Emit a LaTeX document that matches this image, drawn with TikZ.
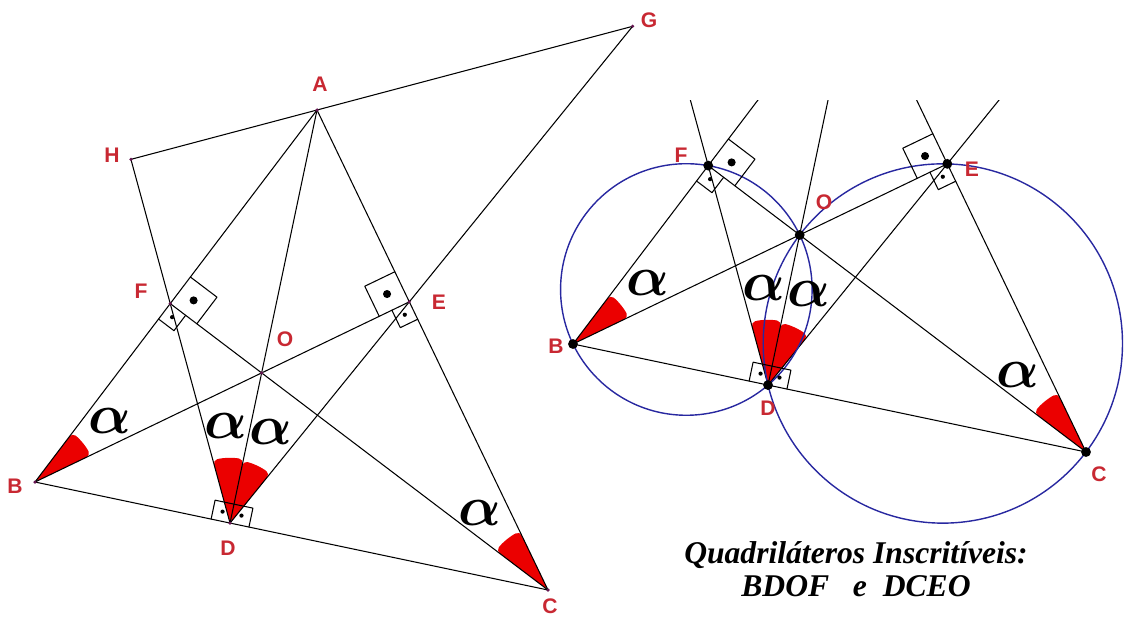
\RequirePackage{fix-cm}
\documentclass[tikz,border=0pt]{standalone}
\usepackage{bm}
\usepackage{fontspec}
\usepackage{tikz}
\usetikzlibrary{calc,angles}
\newfontfamily\labelfont{Liberation Sans}
\newfontfamily\notefont{Liberation Serif}

% right-angle mark: vertex, first ray, second ray, side, dot radius
\newcommand{\perpmark}[5]{%
  \draw[markline] ($(#1)!#4!(#2)$) -- ($(#1)!#4!(#2)+(#1)!#4!(#3)-(#1)$) -- ($(#1)!#4!(#3)$);
  \fill ($(#1)!#4/2!(#2)+(#1)!#4/2!(#3)-(#1)$) circle (#5);
}

\begin{document}
\begin{tikzpicture}[x=0.02cm, y=-0.02cm, line join=round, line cap=round,
    seg/.style={black, line width=0.6pt},
    markline/.style={black, line width=0.6pt},
    circ/.style={circleblue, line width=0.8pt},
    sector/.style={fill=anglered, angle radius=35pt, rounded corners=2.5pt},
    lbl/.style={text=labelred, font=\labelfont\bfseries\fontsize{12}{12}\selectfont, inner sep=0pt},
    alfa/.style={font=\fontsize{32}{32}\selectfont, inner sep=0pt}]

    % Colours of the figure
    \definecolor{labelred}{RGB}{200, 40, 50}
    \definecolor{anglered}{RGB}{235, 0, 0}
    \definecolor{circleblue}{RGB}{40, 40, 160}
    \definecolor{pointpurple}{RGB}{100, 20, 80}

    \useasboundingbox (0,0) rectangle (1126,623);

    % =======================================================
    % POINTS
    % =======================================================
    \coordinate (A) at (317,110);
    \coordinate (B) at (35,482);
    \coordinate (C) at (548,590);
    \coordinate (D) at ($(B)!(A)!(C)$);
    \coordinate (E) at ($(A)!(B)!(C)$);
    \coordinate (F) at ($(A)!(C)!(B)$);
    \coordinate (O) at (intersection of A--D and B--E);
    \coordinate (Adir) at ($(A)+(313,-83)$);
    \coordinate (H) at (intersection of A--Adir and D--F);
    \coordinate (G) at (intersection of A--Adir and D--E);

    % the same triangle again, on the right
    \foreach \p in {A,B,C,D,E,F,O} {
        \coordinate (r\p) at ($(\p)+(538,-138)$);
    }

    % =======================================================
    % LEFT FIGURE
    % =======================================================
    % 1. Red angles
    \pic[sector] {angle = E--B--A};
    \pic[sector, angle radius=37pt] {angle = A--C--F};
    \pic[sector, angle radius=37pt] {angle = A--D--F};
    \pic[sector, angle radius=36pt] {angle = E--D--A};

    % 2. Lines
    \draw[seg] (H) -- (G);
    \draw[seg] (H) -- (D) -- (G);
    \draw[seg] (A) -- (B) -- (C) -- cycle;
    \draw[seg] (A) -- (D);
    \draw[seg] (B) -- (E);
    \draw[seg] (C) -- (F);

    % 3. Right angles
    \perpmark{F}{A}{C}{19pt}{2.3pt}
    \perpmark{F}{B}{C}{11pt}{1.2pt}
    \perpmark{E}{A}{B}{19pt}{2.3pt}
    \perpmark{E}{C}{B}{11pt}{1.2pt}
    \perpmark{D}{B}{A}{11pt}{1.2pt}
    \perpmark{D}{C}{A}{11pt}{1.2pt}

    % 4. Points
    \foreach \p in {A,B,C,D,E,F,O,H,G} {
        \fill[pointpurple] (\p) circle (1pt);
    }

    % =======================================================
    % RIGHT FIGURE
    % =======================================================
    % 1. Red angles
    \pic[sector] {angle = rE--rB--rA};
    \pic[sector, angle radius=37pt] {angle = rA--rC--rF};
    \pic[sector, angle radius=37pt] {angle = rA--rD--rF};
    \pic[sector, angle radius=36pt] {angle = rE--rD--rA};

    % 2. Lines
    \draw[seg] (rB) -- (rC);
    \draw[seg] (rB) -- (rE);
    \draw[seg] (rC) -- (rF);
    \begin{scope}
        \clip (0,100) rectangle (1126,623);
        \draw[seg] (rB) -- (rA);
        \draw[seg] (rC) -- (rA);
        \draw[seg] (rD) -- (rA);
        \draw[seg] (rD) -- ($(rD)!2!(rF)$);
        \draw[seg] (rD) -- ($(rD)!2!(rE)$);
    \end{scope}

    % 3. Circles BDOF and DCEO
    \draw[circ] let \p1 = ($(rO)-(rB)$) in
        ($(rB)!0.5!(rO)$) circle [radius={veclen(\x1,\y1)/2}];
    \draw[circ] let \p1 = ($(rO)-(rC)$) in
        ($(rC)!0.5!(rO)$) circle [radius={veclen(\x1,\y1)/2}];

    % 4. Right angles
    \perpmark{rF}{rA}{rC}{19pt}{2.3pt}
    \perpmark{rF}{rB}{rC}{11pt}{1.2pt}
    \perpmark{rE}{rA}{rB}{19pt}{2.3pt}
    \perpmark{rE}{rC}{rB}{11pt}{1.2pt}
    \perpmark{rD}{rB}{rA}{11pt}{1.2pt}
    \perpmark{rD}{rC}{rA}{11pt}{1.2pt}

    % 5. Points
    \foreach \p in {rB,rC,rD,rE,rF,rO} {
        \fill (\p) circle (2.8pt);
    }

    % =======================================================
    % LABELS
    % =======================================================
    \node[lbl] (lA) at (320,84) {A};
    \node[lbl] (lG) at (649,20) {G};
    \node[lbl] (lH) at (112,155) {H};
    \node[lbl] (lF) at (141,291) {F};
    \node[lbl] (lE) at (439,302) {E};
    \node[lbl] (lO) at (285,339) {O};
    \node[lbl] (lB) at (15,486) {B};
    \node[lbl] (lD) at (228,548) {D};
    \node[lbl] (lC) at (550,606) {C};

    \node[lbl] (lrB) at (556,346) {B};
    \node[lbl] (lrF) at (681,155) {F};
    \node[lbl] (lrE) at (972,169) {E};
    \node[lbl] (lrO) at (824,202) {O};
    \node[lbl] (lrD) at (768,408) {D};
    \node[lbl] (lrC) at (1099,474) {C};

    \node[alfa] (aB) at (110,421) {$\bm{\alpha}$};
    \node[alfa] (aD1) at (226,426) {$\bm{\alpha}$};
    \node[alfa] (aD2) at (271,432) {$\bm{\alpha}$};
    \node[alfa] (aC) at (480,513) {$\bm{\alpha}$};

    \node[alfa] (arB) at (648,283) {$\bm{\alpha}$};
    \node[alfa] (arD1) at (764,288) {$\bm{\alpha}$};
    \node[alfa] (arD2) at (809,294) {$\bm{\alpha}$};
    \node[alfa] (arC) at (1018,375) {$\bm{\alpha}$};

    \node[font=\notefont\bfseries\itshape\fontsize{18}{19}\selectfont, align=center, inner sep=0pt]
        (note) at (856,569) {Quadriláteros Inscritíveis:\\BDOF\ \ \ e\ \ DCEO};

\end{tikzpicture}
\end{document}
